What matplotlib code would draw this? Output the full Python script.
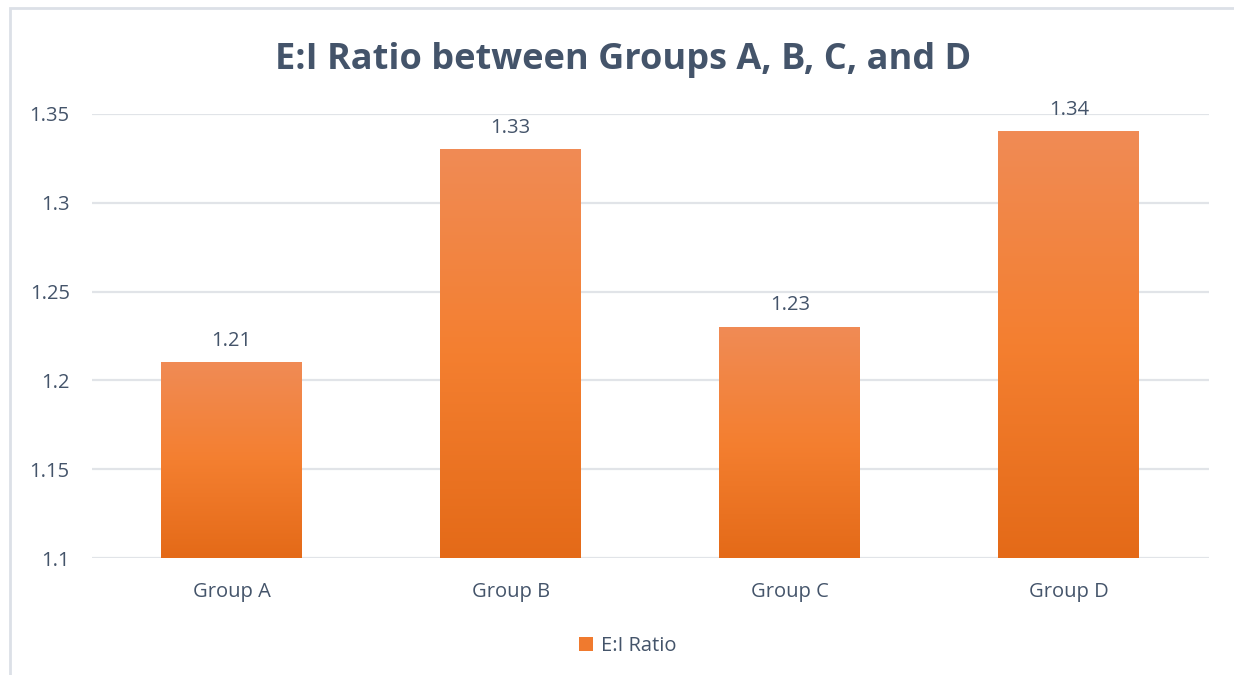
import matplotlib
matplotlib.use("Agg")
import matplotlib.pyplot as plt
import numpy as np
from matplotlib.patches import Rectangle, Patch
from matplotlib.colors import LinearSegmentedColormap

categories = ["Group A", "Group B", "Group C", "Group D"]
values = [1.21, 1.33, 1.23, 1.34]
yticks = [1.1, 1.15, 1.2, 1.25, 1.3, 1.35]
ytick_labels = ["1.1", "1.15", "1.2", "1.25", "1.3", "1.35"]
title = "E:I Ratio between Groups A, B, C, and D"
series_name = "E:I Ratio"

plt.rcParams['font.family'] = ['Open Sans', 'DejaVu Sans']
text_color = "#44546A"

W, H = 1234, 675
fig = plt.figure(figsize=(W/100, H/100), dpi=100)
fig.patch.set_facecolor("white")

# chart frame
fig.patches.append(Rectangle((10/W, -0.1), 1.2, (H-8)/H + 0.1, transform=fig.transFigure,
                             fill=False, edgecolor="#DCE0E7", linewidth=2.0))

left, right = 92/W, 1208.5/W
bottom, top = 1 - 558/H, 1 - 114/H
ax = fig.add_axes([left, bottom, right-left, top-bottom])
for s in ax.spines.values():
    s.set_visible(False)
ax.set_yticks(yticks)
ax.set_yticklabels(ytick_labels)
ax.yaxis.grid(True, color="#E1E4E8", linewidth=1.6)
ax.set_axisbelow(True)
ax.tick_params(axis='both', length=0, labelsize=14.5, colors=text_color)
ax.tick_params(axis='y', pad=16)
x = np.arange(len(categories))
ax.set_xticks(x)
ax.set_xticklabels(categories)
ax.tick_params(axis='x', pad=17)

cmap = LinearSegmentedColormap.from_list("g", ["#E46A18", "#F47F30", "#F08B55"])
bw = 0.505
grad = np.linspace(0, 1, 256).reshape(-1, 1)
ax.bar(x, [v - 1.1 for v in values], bottom=1.1, width=bw, color="none", edgecolor="none", zorder=2)
for xi, v in zip(x, values):
    ax.imshow(grad, extent=[xi-bw/2, xi+bw/2, 1.1, v], origin='lower', cmap=cmap,
              aspect='auto', zorder=2, interpolation='bilinear')
    ax.annotate(f"{v:.2f}", (xi, v), xytext=(0, 8.5), textcoords='offset points',
                ha='center', va='bottom', fontsize=14.5, color=text_color)
ax.set_xlim(-0.5, len(categories)-0.5)
ax.set_ylim(1.1, 1.35)

fig.text(623.5/W, 1 - 60/H, title, ha='center', va='center', fontsize=26,
         fontweight='bold', color=text_color)

fig.legend(handles=[Patch(facecolor="#F07A2E", edgecolor="none", label=series_name)],
           loc='center', bbox_to_anchor=(628/W, 1 - 646/H), frameon=False,
           fontsize=14.5, labelcolor=text_color, handlelength=0.7, handleheight=0.7,
           handletextpad=0.4)

fig.savefig("out.png", dpi=100)
